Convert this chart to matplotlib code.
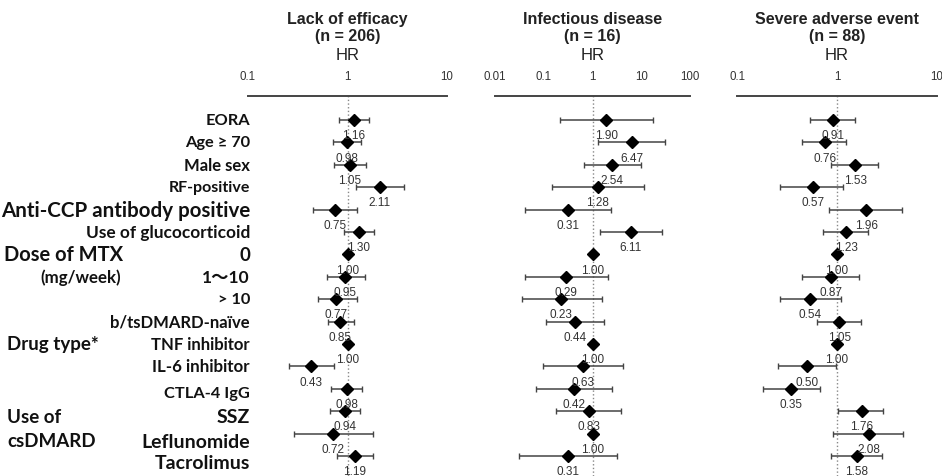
import numpy as np
import matplotlib
matplotlib.use("Agg")
import matplotlib.pyplot as plt
from matplotlib.transforms import blended_transform_factory

# rows (top to bottom)
row_labels = ["EORA", "Age ≥ 70", "Male sex", "RF-positive", "Anti-CCP antibody positive",
              "Use of glucocorticoid", "0", "1～10", "> 10", "b/tsDMARD-naïve",
              "TNF inhibitor", "IL-6 inhibitor", "CTLA-4 IgG", "SSZ", "Leflunomide", "Tacrolimus"]
label_sizes = [11.8, 11.8, 12, 11.5, 14.8, 12.4, 13.5, 12.5, 11.8, 12,
               12, 12.2, 11.8, 14, 14, 14]
label_dy = [0, 0, 0, 0, 0, 0, 0, 0, 0, 0, 0, 0, 0.2, 0.25, 0.35, 0.3]

nan = np.nan
# Lack of efficacy
hr_eff = [1.16, 0.98, 1.05, 2.11, 0.75, 1.30, 1.00, 0.95, 0.77, 0.85, 1.00, 0.43, 0.98, 0.94, 0.72, 1.19]
lo_eff = [0.83, 0.71, 0.73, 1.21, 0.45, 0.93, nan, 0.62, 0.50, 0.63, nan, 0.26, 0.69, 0.67, 0.29, 0.78]
hi_eff = [1.66, 1.37, 1.53, 3.70, 1.24, 1.85, nan, 1.50, 1.24, 1.17, nan, 0.73, 1.41, 1.34, 1.82, 1.82]
# Infectious disease
hr_inf = [1.90, 6.47, 2.54, 1.28, 0.31, 6.11, 1.00, 0.29, 0.23, 0.44, 1.00, 0.63, 0.42, 0.83, 1.00, 0.31]
lo_inf = [0.215, 1.32, 0.67, 0.146, 0.041, 1.43, nan, 0.041, 0.035, 0.111, nan, 0.098, 0.069, 0.178, nan, 0.031]
hi_inf = [17.1, 30.7, 9.9, 11.4, 2.4, 27.0, nan, 2.05, 1.59, 1.75, nan, 4.16, 2.55, 3.85, nan, 3.13]
# Severe adverse event
hr_sae = [0.91, 0.76, 1.53, 0.57, 1.96, 1.23, 1.00, 0.87, 0.54, 1.05, 1.00, 0.50, 0.35, 1.76, 2.08, 1.58]
lo_sae = [0.54, 0.45, 0.88, 0.27, 0.84, 0.73, nan, 0.45, 0.27, 0.63, nan, 0.255, 0.18, 1.03, 0.92, 0.87]
hi_sae = [1.51, 1.23, 2.55, 1.16, 4.5, 2.03, nan, 1.66, 1.10, 1.72, nan, 0.98, 0.67, 2.9, 4.54, 2.84]

titles = ["Lack of efficacy\n(n = 206)", "Infectious disease\n(n = 16)", "Severe adverse event\n(n = 88)"]
W, H = 942, 477

fig = plt.figure(figsize=(W / 100, H / 100), dpi=100)

def px(x, y):
    return x / W, 1 - y / H

row0, step = 121, 22.4
top, bottom = 97, 477
panels = [
    (248, 447, (0.1, 10), [0.1, 1, 10], ["0.1", "1", "10"], hr_eff, lo_eff, hi_eff),
    (495, 690, (0.01, 100), [0.01, 0.1, 1, 10, 100], ["0.01", "0.1", "1", "10", "100"], hr_inf, lo_inf, hi_inf),
    (737, 937, (0.1, 10), [0.1, 1, 10], ["0.1", "1", "10"], hr_sae, lo_sae, hi_sae),
]
arial = "Liberation Sans"

axes = []
for i, (l, r, xl, ticks, tlabels, hr, lo, hi) in enumerate(panels):
    ax = fig.add_axes([l / W, 1 - bottom / H, (r - l) / W, (bottom - top) / H])
    ax.set_xscale("log")
    ax.set_xlim(*xl)
    ax.set_ylim((bottom - row0) / step, -(row0 - top) / step)
    for s in ["left", "right", "bottom"]:
        ax.spines[s].set_visible(False)
    ax.spines["top"].set_color("#444444")
    ax.spines["top"].set_linewidth(1.4)
    ax.xaxis.tick_top()
    ax.set_xticks(ticks)
    ax.set_xticklabels(tlabels, family=arial)
    ax.minorticks_off()
    ax.tick_params(axis="x", length=0, pad=10, labelsize=8.3, labelcolor="#333333")
    ax.set_yticks([])
    ax.axvline(1, color="#888888", ls=":", lw=1)

    y = np.arange(len(hr))
    hr = np.array(hr); lo = np.array(lo); hi = np.array(hi)
    ok = ~np.isnan(lo)
    ax.errorbar(hr[ok], y[ok], xerr=[hr[ok] - lo[ok], hi[ok] - hr[ok]], fmt="none",
                ecolor="#444444", elinewidth=1.1, capsize=2, capthick=1)
    ax.plot(hr, y, "D", color="black", ms=6, ls="none")
    for v, yy in zip(hr, y):
        ax.annotate("%.2f" % v, (v, yy), xytext=(0, -11), textcoords="offset points",
                    ha="center", va="center", fontsize=8.5, color="#333333", family=arial)

    cx = (l + r) / 2
    fig.text(*px(cx, 28), titles[i], ha="center", va="center", fontsize=11.5,
             fontweight="bold", family=arial, linespacing=1.2, color="#222222")
    fig.text(*px(cx, 55), "HR", ha="center", va="center", fontsize=12,
             family=arial, color="#222222")
    axes.append(ax)

# left labels
ax1 = axes[0]
tr = blended_transform_factory(fig.transFigure, ax1.transData)
fam = ["Lato", "Noto Sans CJK JP", "DejaVu Sans"]
for k, (lab, fs, dy) in enumerate(zip(row_labels, label_sizes, label_dy)):
    ax1.text(250 / W, k + dy, lab, transform=tr, ha="right", va="center", fontsize=fs,
             fontweight="bold", family=fam, color="#111111")

groups = [("Dose of MTX", 4, 6, 14.5), ("(mg/week)", 40, 7, 12.2), ("Drug type*", 7, 10, 13.5),
          ("Use of", 7, 13.25, 13.5), ("csDMARD", 7, 14.3, 13.5)]
for lab, x, r, fs in groups:
    ax1.text(x / W, r, lab, transform=tr, ha="left", va="center", fontsize=fs,
             fontweight="bold", family=fam, color="#111111")

fig.savefig("out.png", dpi=100)
